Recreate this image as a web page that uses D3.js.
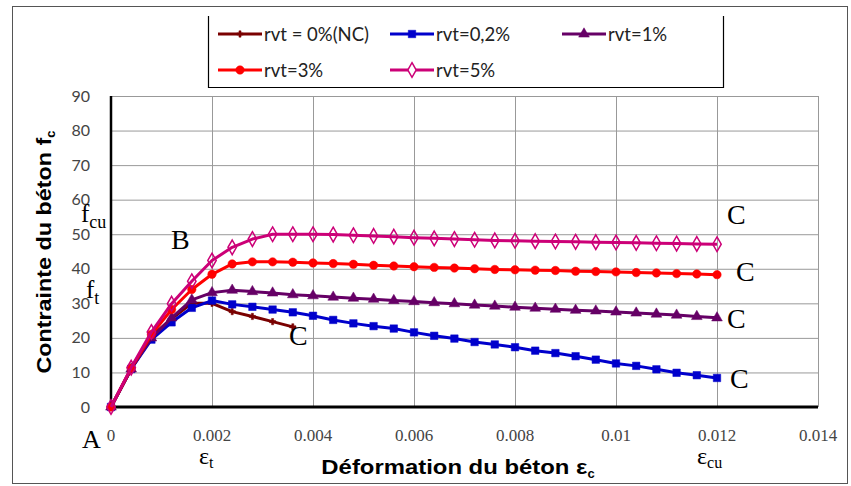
<!DOCTYPE html>
<html>
<head>
<meta charset="utf-8">
<script src="https://cdn.jsdelivr.net/npm/d3@7"></script>
<style>
  html, body { margin: 0; padding: 0; background: #fff; }
  svg { display: block; }
</style>
</head>
<body>
<svg id="chart" width="851" height="486"></svg>
<script>
// Strain values (step 0.0004)
const strain = [0, 0.0004, 0.0008, 0.0012, 0.0016, 0.002, 0.0024, 0.0028, 0.0032, 0.0036,
  0.004, 0.0044, 0.0048, 0.0052, 0.0056, 0.006, 0.0064, 0.0068, 0.0072, 0.0076,
  0.008, 0.0084, 0.0088, 0.0092, 0.0096, 0.01, 0.0104, 0.0108, 0.0112, 0.0116, 0.012];

// Stress (MPa) for each fibre ratio
const stressNC = [0, 11, 20.5, 25.5, 30.0, 30.0, 27.6, 26.2, 24.7, 23.2];
const stress02 = [0, 11, 19.5, 24.5, 28.7, 30.8, 29.7, 29.0, 28.2, 27.4,
  26.4, 25.2, 24.2, 23.4, 22.7, 21.6, 20.6, 19.8, 18.8, 18.1,
  17.3, 16.3, 15.6, 14.7, 13.7, 12.6, 11.9, 10.9, 9.9, 9.2, 8.4];
const stress1 = [0, 11, 20, 25.8, 31.0, 33.1, 33.8, 33.4, 33.0, 32.5,
  32.2, 31.8, 31.5, 31.2, 30.8, 30.5, 30.2, 29.9, 29.5, 29.2,
  28.9, 28.6, 28.3, 28.0, 27.8, 27.5, 27.2, 26.9, 26.6, 26.2, 25.8];
const stress3 = [0, 11.2, 21, 28.2, 34.0, 38.4, 41.4, 42.0, 42.0, 41.9,
  41.7, 41.5, 41.3, 41.0, 40.8, 40.6, 40.4, 40.2, 40.0, 39.8,
  39.7, 39.6, 39.5, 39.3, 39.2, 39.1, 38.9, 38.8, 38.6, 38.5, 38.3];
const stress5 = [0, 11.4, 21.7, 29.9, 36.4, 42.4, 46.2, 48.6, 50.0, 50.0,
  50.0, 49.9, 49.7, 49.5, 49.3, 49.0, 48.8, 48.6, 48.4, 48.2,
  48.1, 48.0, 47.9, 47.8, 47.7, 47.6, 47.5, 47.4, 47.3, 47.2, 47.1];

const seriesNames = ["rvt = 0%(NC)", "rvt=0,2%", "rvt=1%", "rvt=3%", "rvt=5%"];
const seriesColors = ["#7a0000", "#0000cc", "#660066", "#ff0000", "#cc0077"];
const seriesMarkers = ["cross", "square", "triangle", "circle", "diamond"];
const seriesValues = [stressNC, stress02, stress1, stress3, stress5];

const xTicks = [0, 0.002, 0.004, 0.006, 0.008, 0.01, 0.012, 0.014];
const xTickLabels = ["0", "0.002", "0.004", "0.006", "0.008", "0.01", "0.012", "0.014"];
const yTicks = [0, 10, 20, 30, 40, 50, 60, 70, 80, 90];

const svg = d3.select("#chart");

// Outer frame
svg.append("rect").attr("x", 12.5).attr("y", 6.5).attr("width", 835).attr("height", 477)
  .attr("fill", "none").attr("stroke", "#555").attr("stroke-width", 1);

const x = d3.scaleLinear().domain([0, 0.014]).range([111, 818]);
const y = d3.scaleLinear().domain([0, 90]).range([407, 96]);

// Gridlines
const grid = svg.append("g");
grid.append("g").attr("transform", `translate(0,${y(0)})`)
  .call(d3.axisBottom(x).tickValues(xTicks.slice(1)).tickSize(-(y(0) - y(90))).tickFormat(""))
  .call(g => g.select(".domain").remove())
  .call(g => g.selectAll("line").attr("stroke", "#999").attr("stroke-width", 1));
grid.append("g").attr("transform", `translate(${x(0)},0)`)
  .call(d3.axisLeft(y).tickValues(yTicks.slice(1)).tickSize(-(x(0.014) - x(0))).tickFormat(""))
  .call(g => g.select(".domain").remove())
  .call(g => g.selectAll("line").attr("stroke", "#999").attr("stroke-width", 1));

// Axis lines
svg.append("line").attr("x1", x(0)).attr("x2", x(0)).attr("y1", y(90)).attr("y2", y(0) + 1)
  .attr("stroke", "#000").attr("stroke-width", 2.5);
svg.append("line").attr("x1", x(0) - 1).attr("x2", x(0.014)).attr("y1", y(0)).attr("y2", y(0))
  .attr("stroke", "#000").attr("stroke-width", 3);

// Tick labels
svg.append("g").selectAll("text").data(yTicks).join("text")
  .attr("x", 90).attr("y", d => y(d) + 5.5)
  .attr("text-anchor", "end")
  .attr("font-family", "Lato, 'Liberation Sans', sans-serif")
  .attr("font-size", 16).attr("fill", "#444")
  .text(d => d);
svg.append("g").selectAll("text").data(xTicks).join("text")
  .attr("x", d => x(d)).attr("y", 441)
  .attr("text-anchor", "middle")
  .attr("font-family", "'Liberation Serif', serif")
  .attr("font-size", 17).attr("fill", "#444")
  .text((d, i) => xTickLabels[i]);

// Axis titles
const yTitle = svg.append("text")
  .attr("transform", "translate(51,252) rotate(-90)")
  .attr("text-anchor", "middle")
  .attr("font-family", "'Liberation Sans', Arial, sans-serif")
  .attr("font-weight", "bold").attr("font-size", 20).attr("fill", "#000");
yTitle.append("tspan").attr("textLength", 236).attr("lengthAdjust", "spacingAndGlyphs")
  .text("Contrainte du béton f");
yTitle.append("tspan").attr("font-size", 13).attr("dy", 4).text("c");

const xTitle = svg.append("text")
  .attr("x", 458).attr("y", 474)
  .attr("text-anchor", "middle")
  .attr("font-family", "'Liberation Sans', Arial, sans-serif")
  .attr("font-weight", "bold").attr("font-size", 20).attr("fill", "#000");
xTitle.append("tspan").attr("textLength", 266).attr("lengthAdjust", "spacingAndGlyphs")
  .text("Déformation du béton ε");
xTitle.append("tspan").attr("font-size", 13).attr("dy", 4).text("c");

// Markers
function markerPath(type, size) {
  const map = {
    cross: d3.symbolCross, square: d3.symbolSquare, triangle: d3.symbolTriangle,
    circle: d3.symbolCircle, diamond: d3.symbolDiamond
  };
  return d3.symbol(map[type], size)();
}
const markerSize = { cross: 22, square: 56, triangle: 50, circle: 56, diamond: 62 };

const line = d3.line().x(d => x(d[0])).y(d => y(d[1]));

seriesValues.forEach((vals, i) => {
  const pts = vals.map((v, k) => [strain[k], v]);
  const g = svg.append("g");
  g.append("path").datum(pts).attr("d", line)
    .attr("fill", "none").attr("stroke", seriesColors[i]).attr("stroke-width", 3)
    .attr("stroke-linejoin", "round");
  const hollow = seriesMarkers[i] === "diamond";
  g.selectAll("path.m").data(pts).join("path").attr("class", "m")
    .attr("transform", d => `translate(${x(d[0])},${y(d[1])})`)
    .attr("d", markerPath(seriesMarkers[i], markerSize[seriesMarkers[i]]))
    .attr("fill", hollow ? "none" : seriesColors[i])
    .attr("stroke", seriesColors[i]).attr("stroke-width", hollow ? 1.5 : 0.5);
});

// Legend
const legendPos = [[218, 34], [390, 34], [562, 34], [218, 70], [390, 70]];
svg.append("path").attr("d", "M208.5,16V87.5H723.5V16")
  .attr("fill", "none").attr("stroke", "#000").attr("stroke-width", 1.2);
seriesNames.forEach((name, i) => {
  const [lx, ly] = legendPos[i];
  const g = svg.append("g");
  g.append("line").attr("x1", lx).attr("x2", lx + 44).attr("y1", ly).attr("y2", ly)
    .attr("stroke", seriesColors[i]).attr("stroke-width", 3);
  const hollow = seriesMarkers[i] === "diamond";
  g.append("path").attr("transform", `translate(${lx + 22},${ly})`)
    .attr("d", markerPath(seriesMarkers[i], markerSize[seriesMarkers[i]]))
    .attr("fill", hollow ? "#fff" : seriesColors[i])
    .attr("stroke", seriesColors[i]).attr("stroke-width", hollow ? 1.5 : 0.5);
  g.append("text").attr("x", lx + 46).attr("y", ly + 6.5)
    .attr("font-family", "Lato, 'Liberation Sans', sans-serif")
    .attr("font-size", 18.5).attr("fill", "#222").text(name);
});

// Curve annotations
const serif = "'Liberation Serif', 'Times New Roman', serif";
function note(xp, yp, main, sub, size, subSize, dy) {
  const t = svg.append("text").attr("x", xp).attr("y", yp)
    .attr("font-family", serif).attr("font-size", size).attr("fill", "#000");
  t.append("tspan").text(main);
  if (sub) t.append("tspan").attr("font-size", subSize).attr("dy", dy).text(sub);
}
note(82, 448, "A", null, 26);
note(171, 249, "B", null, 28);
note(81, 222, "f", "cu", 25, 18, 6);
note(86, 298, "f", "t", 25, 18, 6);
note(289, 345, "C", null, 28);
note(727, 224, "C", null, 28);
note(736, 281, "C", null, 28);
note(727, 328, "C", null, 28);
note(730, 388, "C", null, 28);
note(199, 464, "ε", "t", 24, 16, 4);
note(697, 464, "ε", "cu", 24, 16, 4);
</script>
</body>
</html>
